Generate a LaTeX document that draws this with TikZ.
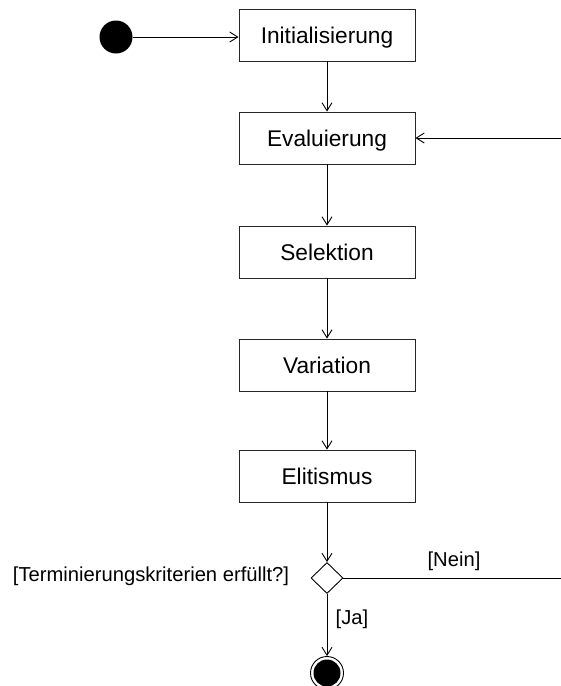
\documentclass[tikz,border=0pt]{standalone}
\usepackage{fontspec}
\setmainfont{Liberation Sans}
\usetikzlibrary{arrows.meta,shapes.geometric}
\begin{document}
\begin{tikzpicture}[x=1pt,y=-1pt,
  stepbox/.style={draw=black!85,line width=0.9pt,minimum width=176pt,minimum height=52pt,inner sep=0pt,text height=20pt,text depth=4pt,font=\fontsize{22.7}{26}\selectfont},
  flow/.style={line width=0.9pt,-{Straight Barb[length=8pt,width=10pt,line width=0.9pt]}},
  lbl/.style={font=\fontsize{20.2}{23}\selectfont,inner sep=0pt}]
\useasboundingbox (0,0) rectangle (561,686);
\node[circle,fill=black,minimum size=33pt,inner sep=0pt] (start) at (116,37) {};
\node[stepbox] (init) at (327,35) {Initialisierung};
\node[stepbox] (eval) at (327,138) {Evaluierung};
\node[stepbox] (sel) at (327,252) {Selektion};
\node[stepbox] (var) at (327,365) {Variation};
\node[stepbox] (elit) at (327,476) {Elitismus};
\node[diamond,draw=black,line width=0.9pt,minimum width=32pt,minimum height=31pt,inner sep=0pt] (dec) at (327,578) {};
\node[circle,draw=black,fill=white,line width=0.9pt,minimum size=33pt,inner sep=0pt] (endo) at (327,673) {};
\node[circle,fill=black,minimum size=27pt,inner sep=0pt] (endi) at (327,673) {};
\coordinate (loopin) at (561,138);
\coordinate (loopout) at (561,578);
\draw[flow] (start) -- (start -| init.west);
\draw[flow] (init) -- (eval);
\draw[flow] (eval) -- (sel);
\draw[flow] (sel) -- (var);
\draw[flow] (var) -- (elit);
\draw[flow] (elit) -- (dec);
\draw[flow] (dec) -- (endo);
\draw[flow] (loopin) -- (eval);
\draw[line width=0.9pt] (dec) -- (loopout);
\node[lbl] (q) at (151,576) {[Terminierungskriterien erfüllt?]};
\node[lbl] (nein) at (454,561) {[Nein]};
\node[lbl] (ja) at (352,619) {[Ja]};
\end{tikzpicture}
\end{document}
